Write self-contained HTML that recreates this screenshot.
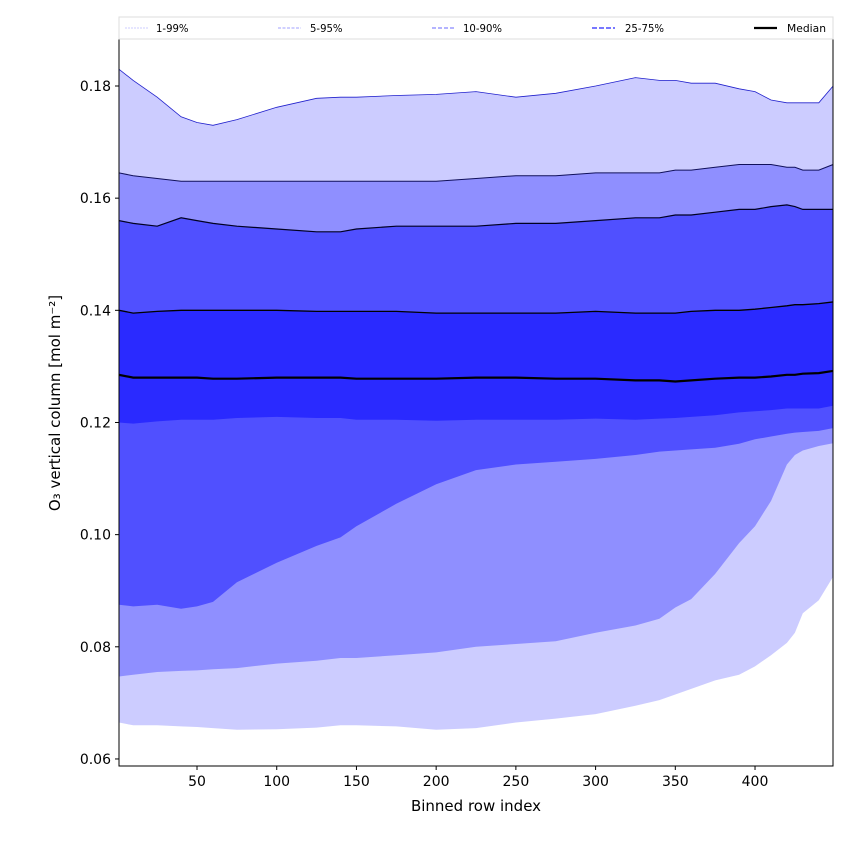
<!DOCTYPE html>
<html><head><meta charset="utf-8"><style>
body{margin:0;background:#fff}
svg text{font-family:"DejaVu Sans","Liberation Sans",sans-serif;fill:#000}
</style></head><body>
<svg id="c" width="850" height="850" viewBox="0 0 850 850"></svg>
<script>
const xs  =[1,10,25,40,50,60,75,100,125,140,150,175,200,225,250,275,300,325,340,350,360,375,390,400,410,420,425,430,440,449];
const p99 =[0.183,0.181,0.178,0.1745,0.1735,0.173,0.174,0.1762,0.1778,0.178,0.178,0.1783,0.1785,0.179,0.178,0.1787,0.180,0.1815,0.181,0.181,0.1805,0.1805,0.1795,0.179,0.1775,0.177,0.177,0.177,0.177,0.180];
const p95 =[0.1645,0.164,0.1635,0.163,0.163,0.163,0.163,0.163,0.163,0.163,0.163,0.163,0.163,0.1635,0.164,0.164,0.1645,0.1645,0.1645,0.165,0.165,0.1655,0.166,0.166,0.166,0.1655,0.1655,0.165,0.165,0.166];
const p90 =[0.156,0.1555,0.155,0.1565,0.156,0.1555,0.155,0.1545,0.154,0.154,0.1545,0.155,0.155,0.155,0.1555,0.1555,0.156,0.1565,0.1565,0.157,0.157,0.1575,0.158,0.158,0.1585,0.1588,0.1585,0.158,0.158,0.158];
const p75 =[0.140,0.1395,0.1398,0.140,0.140,0.140,0.140,0.140,0.1398,0.1398,0.1398,0.1398,0.1395,0.1395,0.1395,0.1395,0.1398,0.1395,0.1395,0.1395,0.1398,0.140,0.140,0.1402,0.1405,0.1408,0.141,0.141,0.1412,0.1415];
const p50 =[0.1285,0.128,0.128,0.128,0.128,0.1278,0.1278,0.128,0.128,0.128,0.1278,0.1278,0.1278,0.128,0.128,0.1278,0.1278,0.1275,0.1275,0.1273,0.1275,0.1278,0.128,0.128,0.1282,0.1285,0.1285,0.1287,0.1288,0.1292];
const p25 =[0.120,0.1198,0.1202,0.1205,0.1205,0.1205,0.1208,0.121,0.1208,0.1208,0.1205,0.1205,0.1203,0.1205,0.1205,0.1205,0.1207,0.1205,0.1207,0.1208,0.121,0.1213,0.1218,0.122,0.1222,0.1225,0.1225,0.1225,0.1225,0.123];
const p10 =[0.0875,0.0872,0.0875,0.0868,0.0872,0.088,0.0915,0.095,0.098,0.0995,0.1015,0.1055,0.109,0.1115,0.1125,0.113,0.1135,0.1142,0.1148,0.115,0.1152,0.1155,0.1162,0.117,0.1175,0.118,0.1182,0.1183,0.1185,0.119];
const p5  =[0.0747,0.075,0.0755,0.0757,0.0758,0.076,0.0762,0.077,0.0775,0.078,0.078,0.0785,0.079,0.080,0.0805,0.081,0.0825,0.0838,0.085,0.087,0.0885,0.093,0.0985,0.1015,0.106,0.1125,0.1142,0.115,0.1158,0.1163];
const p1  =[0.0665,0.066,0.066,0.0658,0.0657,0.0655,0.0652,0.0653,0.0656,0.066,0.066,0.0658,0.0652,0.0655,0.0665,0.0672,0.068,0.0695,0.0705,0.0715,0.0725,0.074,0.075,0.0765,0.0785,0.0807,0.0825,0.086,0.0883,0.0925];
const xTicks=[50,100,150,200,250,300,350,400];
const yTicks=[0.06,0.08,0.10,0.12,0.14,0.16,0.18];

const L=119,R=833,T=39,B=766;
const X=v=>117.3+1.5943*v;
const Y=v=>86+(0.18-v)*5608;
const NS="http://www.w3.org/2000/svg";
const svg=document.getElementById('c');
function mk(t,a){const e=document.createElementNS(NS,t);for(const k in a)e.setAttribute(k,a[k]);svg.appendChild(e);return e;}
const clip=mk('clipPath',{id:'pc'});
const cr=document.createElementNS(NS,'rect');cr.setAttribute('x',L);cr.setAttribute('y',T);cr.setAttribute('width',R-L);cr.setAttribute('height',B-T);clip.appendChild(cr);
function pts(a){return xs.map((x,i)=>X(x).toFixed(1)+','+Y(a[i]).toFixed(1));}
function band(lo,hi,col,name){
  const d='M'+pts(hi).join('L')+'L'+pts(lo).reverse().join('L')+'Z';
  const e=mk('path',{d:d,fill:col,'clip-path':'url(#pc)'});
  
  
}
function line(a,col,w,name){
  const e=mk('path',{d:'M'+pts(a).join('L'),fill:'none',stroke:col,'stroke-width':w,'clip-path':'url(#pc)'});
  
  
}
band(p1,p99,'#ccccff','band-1-99');
band(p5,p95,'#8f8fff','band-5-95');
band(p10,p90,'#5050ff','band-10-90');
band(p25,p75,'#2a2aff','band-25-75');
line(p99,'#2020cc',0.8,'line-p99');
line(p95,'#10105a',1,'line-p95');
line(p90,'#000022',1.2,'line-p90');
line(p75,'#000',1.3,'line-p75');
line(p50,'#000',2.2,'median-line');

let fr=mk('rect',{x:L,y:T,width:R-L,height:B-T,fill:'none',stroke:'#000','stroke-width':1});


xTicks.forEach(v=>{
  mk('line',{x1:X(v),x2:X(v),y1:B,y2:B+4,stroke:'#000'});
  const t=mk('text',{x:X(v),y:B+20,'text-anchor':'middle','font-size':14});t.textContent=v;
  
  
});
yTicks.forEach(v=>{
  mk('line',{x1:L-4,x2:L,y1:Y(v),y2:Y(v),stroke:'#000'});
  const t=mk('text',{x:L-8,y:Y(v)+5,'text-anchor':'end','font-size':14});t.textContent=v.toFixed(2);
  
  
});
let xl=mk('text',{x:476,y:811,'text-anchor':'middle','font-size':15});xl.textContent='Binned row index';


let yl=mk('text',{x:0,y:0,'text-anchor':'middle','font-size':15,transform:'translate(60,403) rotate(-90)'});yl.textContent='O₃ vertical column [mol m⁻²]';



let lg=mk('rect',{x:119,y:17,width:714,height:22,fill:'#fff',stroke:'#ddd'});


const leg=[[125,156,'1-99%','#ccccff',1,'2,1'],[278,310,'5-95%','#a0a0ff',1,'3,1.5'],[432,463,'10-90%','#8888ff',1.3,'4,2'],[592,625,'25-75%','#6666ff',1.8,'5,2'],[754,787,'Median','#000',2.2,'']];
leg.forEach(l=>{
  const ln=mk('line',{x1:l[0],x2:l[0]+23,y1:28,y2:28,stroke:l[3],'stroke-width':l[4],'stroke-dasharray':l[5]});
  
  
  const t=mk('text',{x:l[1],y:32,'font-size':11,textLength:l[2].length*6.5,lengthAdjust:'spacingAndGlyphs'});t.textContent=l[2];
  
  
});
</script>
</body></html>
